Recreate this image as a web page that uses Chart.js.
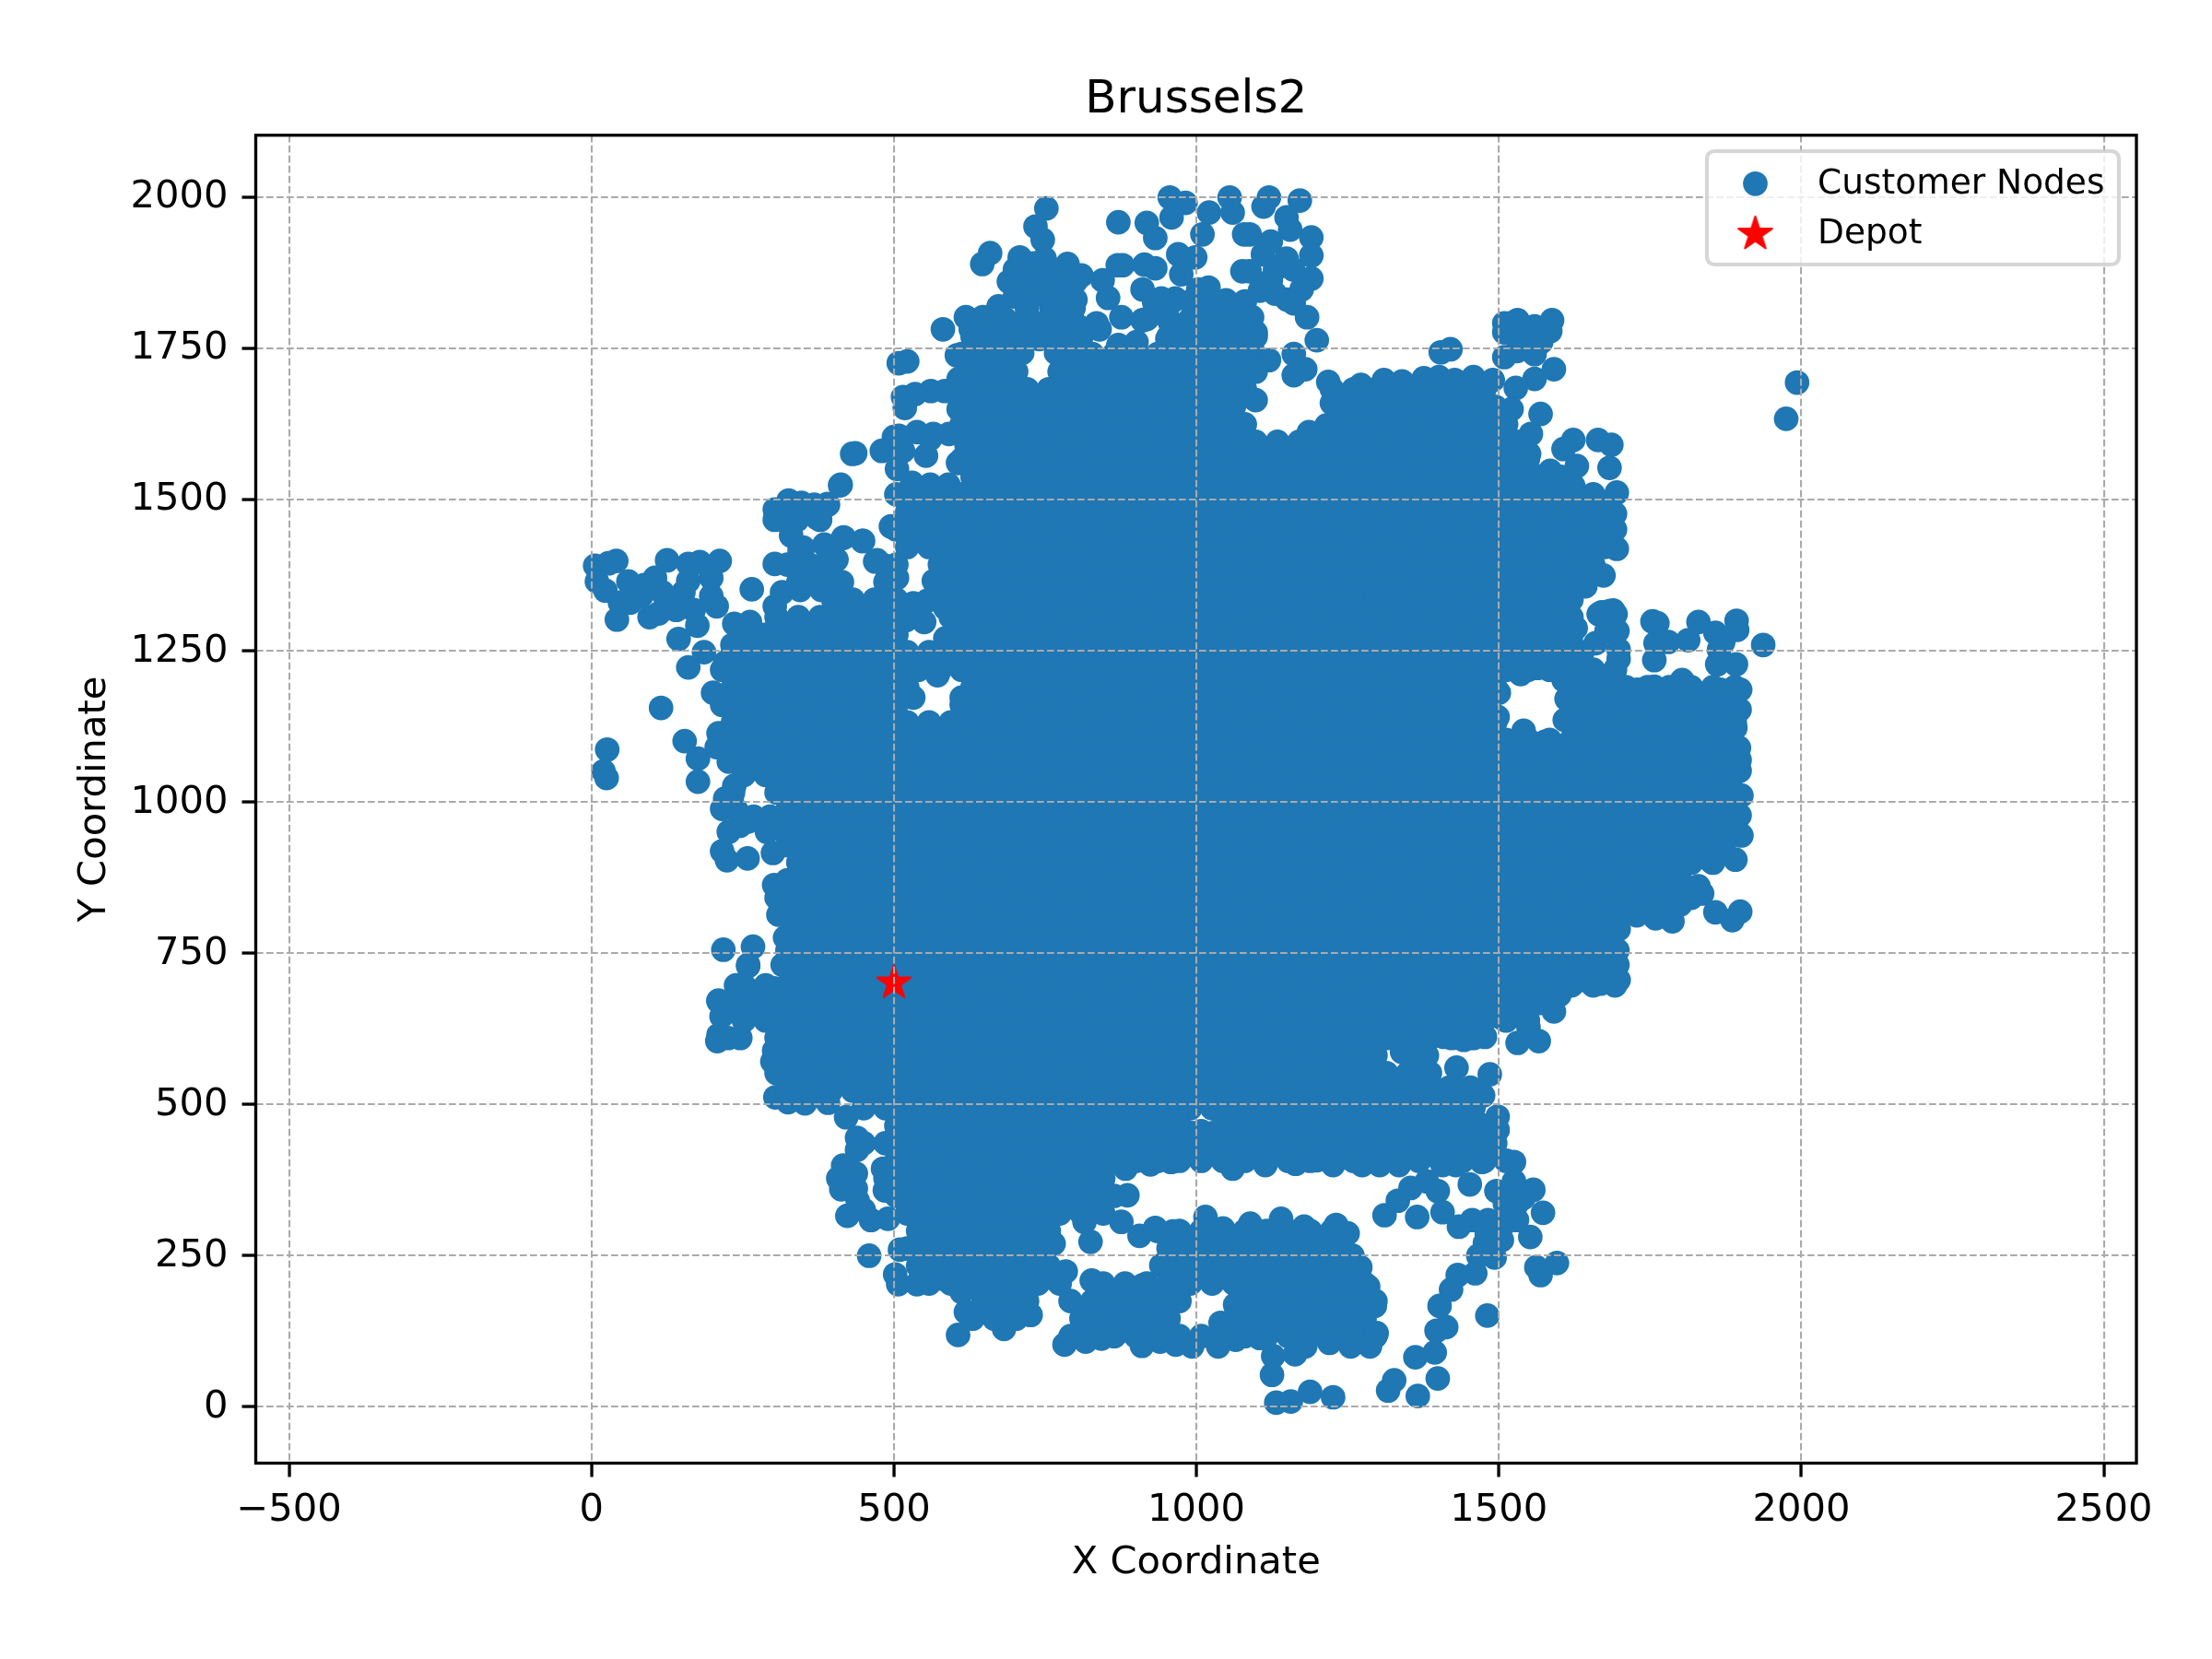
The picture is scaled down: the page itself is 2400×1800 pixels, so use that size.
<!DOCTYPE html>
<html>
<head>
<meta charset="utf-8">
<title>Brussels2</title>
<script src="https://cdn.jsdelivr.net/npm/chart.js@4"></script>
<style>
  html, body { margin: 0; padding: 0; background: #fff; }
  canvas { display: block; }
</style>
</head>
<body>
<canvas id="grafico" width="2400" height="1800"></canvas>
<script>
const chartTitle = 'Brussels2';
const xAxisTitle = 'X Coordinate';
const yAxisTitle = 'Y Coordinate';
const xTicks = [-500, 0, 500, 1000, 1500, 2000, 2500];
const yTicks = [0, 250, 500, 750, 1000, 1250, 1500, 1750, 2000];
const customerLabel = 'Customer Nodes';
const depotLabel = 'Depot';
const depotX = [500];
const depotY = [700];

// nodes that can be read one by one along the outline of the cloud
const outlineNodes = [
  [752,1981],[734,1951],[746,1929],[871,1958],[918,1957],[932,1932],[956,1999],[982,1990],[959,1966],[1021,1974],
  [1010,1938],[1055,1999],[1060,1974],[970,1905],[998,1900],[975,1872],[1003,1847],[1079,1938],[1076,1877],[659,1907],
  [646,1889],[708,1900],[787,1889],[800,1860],[749,1898],[690,1860],[723,1867],[759,1862],[845,1862],[870,1887],
  [878,1887],[914,1888],[932,1882],[854,1833],[911,1847],[942,1832],[965,1832],[1049,1829],[876,1801],[835,1791],
  [840,1781],[797,1816],[673,1819],[647,1801],[619,1801],[581,1781],[627,1781],[673,1781],[718,1786],[764,1781],
  [805,1786],[911,1796],[957,1791],[1003,1791],[1049,1796],[1079,1796],[871,1755],[901,1760],[952,1765],
  [700,1835],[740,1840],[780,1840],[760,1820],[720,1815],[790,1790],[740,1765],[770,1860],[730,1890],[1020,1825],[1000,1815],
  [700,1880],[730,1870],[760,1880],[780,1875],[810,1870],[790,1850],[750,1850],[700,1855],[720,1835],[770,1825],[800,1830],
  [930,1827],[960,1827],[990,1827],[1020,1850],[1050,1827],[1080,1827],[1110,1905],[1130,1880],[1160,1880],[1105,1845],[1130,1840],[1150,1830],
  [712,1742],[768,1742],
  [508,1725],[522,1728],[515,1669],[535,1674],[561,1679],[584,1679],[518,1651],[604,1738],[607,1699],[607,1649],
  [538,1611],[508,1605],[553,1572],[591,1608],[565,1608],[500,1603],[480,1580],[436,1576],[431,1575],[412,1524],[505,1550],
  [606,1560],[620,1590],[515,1580],[560,1600],
  [530,1527],[560,1524],[590,1524],[505,1456],[495,1455],[485,1390],[416,1436],[448,1431],[469,1397],
  [327,1496],[347,1494],[368,1491],[391,1491],[378,1466],[340,1466],[317,1466],[330,1440],[350,1420],[385,1425],[405,1400],[400,1333],
  [566,1365],[505,1370],[532,1328],[520,1300],[585,1270],[585,1320],[555,1332],
  [532,1172],[612,1172],[572,1209],
  [1120,1999],[1171,1994],[1111,1984],[1149,1966],[1190,1933],[1190,1903],[1155,1946],[1123,1926],[1088,1938],[1149,1898],
  [1190,1865],[1123,1862],[1088,1877],[1174,1847],[1161,1824],[1183,1801],[1199,1763],[1092,1801],[1098,1776],[1092,1750],
  [1161,1740],[1120,1730],[1161,1705],[1180,1715],[1095,1720],[1098,1664],[1218,1694],[1224,1659],[1272,1689],[1310,1697],
  [1186,1611],[1215,1622],
  [1340,1695],[1376,1700],[1401,1702],[1427,1697],[1458,1702],[1490,1697],[1420,1748],[1404,1743],
  [1518,1791],[1509,1791],[1531,1796],[1588,1796],[1559,1786],[1585,1778],[1509,1776],[1534,1771],[1545,1760],[1570,1760],
  [1530,1745],[1509,1735],[1559,1740],[1591,1715],[1559,1699],[1528,1684],[1521,1649],[1569,1641],[1515,1598],[1553,1608],
  [1550,1575],[1623,1598],[1607,1583],[1664,1598],[1686,1590],[1683,1552],[1629,1555],[1585,1547],[1623,1522],[1547,1542],
  [1695,1511],[1692,1476],[1670,1490],[1695,1418],[1645,1395],[1673,1374],[1638,1357],[1613,1318],[1670,1313],[1689,1316],
  [1993,1693],[1975,1633],
  [1643,1356],[1683,1315],[1665,1310],[1693,1310],[1678,1282],[1696,1282],[1627,1287],[1754,1298],[1762,1295],[1830,1297],
  [1893,1299],[1858,1279],[1894,1284],[1813,1267],[1780,1264],[1759,1262],[1937,1259],[1757,1234],[1871,1264],[1864,1251],
  [1892,1227],[1861,1227],[1698,1236],[1698,1251],[1660,1262],
  [1899,1185],[1898,1152],[1891,1122],[1897,1089],[1898,1069],[1898,1051],[1901,1010],[1898,977],[1901,944],[1891,904],
  [1851,901],[1815,901],[1803,1201],[1757,1190],[1729,1185],[1866,1185],
  [1564,1221],[1536,1211],[1500,1180],[1498,1140],[1541,1117],[1576,1099],[1609,1135],[1612,1170],[1607,1201],
  [1836,848],[1858,817],[1886,804],[1899,818],[1787,802],[1759,807],[1800,830],[1830,860],[1739,820],[1780,850],
  [1696,754],[1698,705],[1668,699],[1622,700],[1640,705],[1591,653],[1579,667],[1546,665],[1505,642],[1549,627],
  [1566,604],[1531,601],[1477,611],[1442,606],[1409,611],[1698,789],[1696,730],[1600,680],
  [1381,580],[1485,549],[1453,527],[1418,527],[1474,514],[1370,532],[1430,560],[1340,586],[1008,455],
  [1060,393],[1114,399],[1164,401],[1199,407],[1226,399],[1274,399],[1303,399],[1335,399],[1407,399],[1429,399],
  [1472,404],[1498,457],[1498,479],[1525,404],[1049,425],[1028,452],[993,420],[958,404],[926,404],[991,452],[1039,495],
  [1365,313],[1311,316],[1333,340],[1354,361],[1381,372],[1399,356],[1407,321],[1452,367],[1496,356],[1525,372],
  [1557,358],[1541,345],[1573,320],[1552,280],[1509,302],[1530,308],[1482,308],[1456,308],[1434,297],[1477,270],
  [1493,246],[1466,249],[1461,220],[1432,217],[1421,193],[1402,166],[1413,131],[1397,125],[1394,89],[1362,81],
  [1399,46],[1366,17],[1327,43],[1317,26],[1481,150],[1562,230],[1596,237],[1569,217],[1226,15],[1188,24],
  [1156,8],[1132,6],[1125,52],[1127,83],[1163,86],[1510,335],[1530,335],[1480,285],[1505,275],
  [1015,313],[1089,302],[1140,310],[1178,297],[1231,300],[1250,286],[932,294],[961,289],[1044,294],[958,265],
  [1258,249],[1271,230],[1284,198],[1295,166],[1298,121],[1287,99],[1255,99],[1220,105],[1180,99],[1105,113],
  [1065,110],[1036,99],[993,99],[966,102],[940,107],[950,233],[1010,215],[1064,168],[1040,138],
  [218,755],[267,760],[259,730],[248,696],[210,671],[215,645],[210,614],[208,604],[246,609],[226,609],
  [302,691],[316,730],[302,588],[299,570],[304,511],[325,503],[353,501],[391,502],[421,478],[439,444],
  [439,424],[416,398],[408,377],[413,359],[423,315],[462,308],[459,249],[510,259],[502,218],[507,202],
  [538,202],[584,210],[612,189],[619,156],[606,118],[682,128],[726,151],[782,102],[817,107],[843,112],
  [868,120],[910,100],[942,109],[825,272],[827,208],[856,192],[906,282],[932,295],[891,192],[911,200],
  [876,305],[886,349],[883,393],[924,400],[764,269],[784,223],[490,310],[485,357],[482,393],[815,305],
  [437,385],[437,360],[440,340],[450,325],[942,233],
  [411,1523],[390,1492],[326,1498],[303,1483],[303,1466],[373,1469],[350,1486],[417,1437],[449,1431],[472,1399],
  [303,1393],[344,1416],[303,1323],[265,1351],[315,1346],[345,1350],[380,1350],[385,1393],[340,1300],[380,1300],
  [6,1390],[41,1398],[28,1394],[9,1364],[23,1349],[61,1364],[42,1301],[47,1329],[96,1305],[111,1311],
  [105,1370],[125,1399],[160,1393],[179,1396],[212,1398],[198,1370],[198,1340],[207,1323],[152,1346],[117,1346],
  [82,1340],[169,1317],[175,1291],[144,1269],[64,1329],[140,1317],[87,1358],[160,1365],
  [160,1222],[186,1247],[236,1294],[262,1297],[233,1259],[221,1230],[201,1180],[115,1155],[154,1100],[176,1071],
  [176,1033],[26,1086],[20,1050],[25,1039],[210,1113],[207,1090],[227,1066],[236,1026],[221,1005],[216,988],
  [227,950],[259,967],[216,918],[224,903],[258,906],[300,915],[302,862],[309,813],[320,775],[259,728],
  [240,985],[268,975],[295,975],[245,960],[290,950],[232,1000],
  [321,731],[239,696],[210,670],[550,1297]
];

// inner nodes of the solid part of the cloud, one row per y value
const rowY = [1798,1769,1740,1711,1682,1653,1624,1595,1566,1537,1508,1479,1450,1421,1392,1363,1334,1305,1276,1247,1218,1189,1160,1131,1102,1073,1044,1015,986,957,928,899,870,841,812,783,754,725,696,667,638,609,580,551,522,493,464,435,406,377,348,319,290,261,232,203,174,145,116];
const rowX = [
  [648,684,720,756,792,918,954,990,1026,1062],
  [630,666,702,738,774,810,954,990,1026,1062,1098],
  [612,648,684,792,828,864,900,936,972,1008,1044,1080],
  [630,666,702,774,810,846,882,918,954,990,1026,1062,1098],
  [612,648,684,720,756,792,828,864,900,936,972,1008,1044,1080,1224,1260,1296,1332,1368,1404,1440,1476],
  [630,666,702,738,774,810,846,882,918,954,990,1026,1062,1242,1278,1314,1350,1386,1422,1458,1494],
  [612,648,684,720,756,792,828,864,900,936,972,1008,1044,1080,1224,1260,1296,1332,1368,1404,1440,1476,1512],
  [630,666,702,738,774,810,846,882,918,954,990,1026,1062,1098,1134,1170,1206,1242,1278,1314,1350,1386,1422,1458,1494,1530],
  [612,648,684,720,756,792,828,864,900,936,972,1008,1044,1080,1116,1152,1188,1224,1260,1296,1332,1368,1404,1440,1476,1512,1548],
  [630,666,702,738,774,810,846,882,918,954,990,1026,1062,1098,1134,1170,1206,1242,1278,1314,1350,1386,1422,1458,1494,1530,1566,1602],
  [504,540,576,612,648,684,720,756,792,828,864,900,936,972,1008,1044,1080,1116,1152,1188,1224,1260,1296,1332,1368,1404,1440,1476,1512,1548,1584,1620,1656],
  [522,558,594,630,666,702,738,774,810,846,882,918,954,990,1026,1062,1098,1134,1170,1206,1242,1278,1314,1350,1386,1422,1458,1494,1530,1566,1602,1638,1674],
  [504,540,576,612,648,684,720,756,792,828,864,900,936,972,1008,1044,1080,1116,1152,1188,1224,1260,1296,1332,1368,1404,1440,1476,1512,1548,1584,1620,1656,1692],
  [522,558,594,630,666,702,738,774,810,846,882,918,954,990,1026,1062,1098,1134,1170,1206,1242,1278,1314,1350,1386,1422,1458,1494,1530,1566,1602,1638,1674],
  [324,360,396,504,576,612,648,684,720,756,792,828,864,900,936,972,1008,1044,1080,1116,1152,1188,1224,1260,1296,1332,1368,1404,1440,1476,1512,1548,1584,1620,1656],
  [342,378,414,486,594,630,666,702,738,774,810,846,882,918,954,990,1026,1062,1098,1134,1170,1206,1242,1278,1314,1350,1386,1422,1458,1494,1530,1566,1602,1638],
  [432,468,504,576,612,648,684,720,756,792,828,864,900,936,972,1008,1044,1080,1116,1152,1188,1224,1260,1296,1332,1368,1404,1440,1476,1512,1548,1584,1620],
  [306,342,378,414,450,486,594,630,666,702,738,774,810,846,882,918,954,990,1026,1062,1098,1134,1170,1206,1242,1278,1314,1350,1386,1422,1458,1494,1530,1566,1602,1620],
  [252,288,324,360,396,432,468,504,612,648,684,720,756,792,828,864,900,936,972,1008,1044,1080,1116,1152,1188,1224,1260,1296,1332,1368,1404,1440,1476,1512,1548,1584,1620],
  [234,270,306,342,378,414,450,486,522,558,594,630,666,702,738,774,810,846,882,918,954,990,1026,1062,1098,1134,1170,1206,1242,1278,1314,1350,1386,1422,1458,1494,1530,1566,1602,1638],
  [216,252,288,324,360,396,432,468,504,540,576,612,648,684,720,756,792,828,864,900,936,972,1008,1044,1080,1116,1152,1188,1224,1260,1296,1332,1368,1404,1440,1476,1512,1548,1584,1620,1656,1692],
  [234,270,306,342,378,414,450,486,522,630,666,702,738,774,810,846,882,918,954,990,1026,1062,1098,1134,1170,1206,1242,1278,1314,1350,1386,1422,1458,1494,1638,1674,1710,1746,1782,1818,1854,1890],
  [216,252,288,324,360,396,432,468,504,612,648,684,720,756,792,828,864,900,936,972,1008,1044,1080,1116,1152,1188,1224,1260,1296,1332,1368,1404,1440,1476,1620,1656,1692,1728,1764,1800,1836,1872],
  [234,270,306,342,378,414,450,486,522,558,594,630,666,702,738,774,810,846,882,918,954,990,1026,1062,1098,1134,1170,1206,1242,1278,1314,1350,1386,1422,1458,1494,1638,1674,1710,1746,1782,1818,1854,1890],
  [216,252,288,324,360,396,432,468,504,540,576,612,648,684,720,756,792,828,864,900,936,972,1008,1044,1080,1116,1152,1188,1224,1260,1296,1332,1368,1404,1440,1476,1512,1548,1584,1620,1656,1692,1728,1764,1800,1836,1872],
  [234,270,306,342,378,414,450,486,522,558,594,630,666,702,738,774,810,846,882,918,954,990,1026,1062,1098,1134,1170,1206,1242,1278,1314,1350,1386,1422,1458,1494,1530,1566,1602,1638,1674,1710,1746,1782,1818,1854,1890],
  [252,288,324,360,396,432,468,504,540,576,612,648,684,720,756,792,828,864,900,936,972,1008,1044,1080,1116,1152,1188,1224,1260,1296,1332,1368,1404,1440,1476,1512,1548,1584,1620,1656,1692,1728,1764,1800,1836,1872],
  [234,306,342,378,414,450,486,522,558,594,630,666,702,738,774,810,846,882,918,954,990,1026,1062,1098,1134,1170,1206,1242,1278,1314,1350,1386,1422,1458,1494,1530,1566,1602,1638,1674,1710,1746,1782,1818,1854,1890],
  [324,360,396,432,468,504,540,576,612,648,684,720,756,792,828,864,900,936,972,1008,1044,1080,1116,1152,1188,1224,1260,1296,1332,1368,1404,1440,1476,1512,1548,1584,1620,1656,1692,1728,1764,1800,1836,1872],
  [306,342,378,414,450,486,522,558,594,630,666,702,738,774,810,846,882,918,954,990,1026,1062,1098,1134,1170,1206,1242,1278,1314,1350,1386,1422,1458,1494,1530,1566,1602,1638,1674,1710,1746,1782,1818,1854,1890],
  [324,360,396,432,468,504,540,576,612,648,684,720,756,792,828,864,900,936,972,1008,1044,1080,1116,1152,1188,1224,1260,1296,1332,1368,1404,1440,1476,1512,1548,1584,1620,1656,1692,1728,1764,1800,1836,1872],
  [342,378,414,450,486,522,558,594,630,666,702,738,774,810,846,882,918,954,990,1026,1062,1098,1134,1170,1206,1242,1278,1314,1350,1386,1422,1458,1494,1530,1566,1602,1638,1674,1710,1746,1782,1818,1854],
  [324,360,396,432,468,504,540,576,612,648,684,720,756,792,828,864,900,936,972,1008,1044,1080,1116,1152,1188,1224,1260,1296,1332,1368,1404,1440,1476,1512,1548,1584,1620,1656,1692,1728,1764,1800],
  [306,342,378,414,450,486,522,558,594,630,666,702,738,774,810,846,882,918,954,990,1026,1062,1098,1134,1170,1206,1242,1278,1314,1350,1386,1422,1458,1494,1530,1566,1602,1638,1674,1710,1746,1782,1818],
  [324,360,396,432,468,504,540,576,612,648,684,720,756,792,828,864,900,936,972,1008,1044,1080,1116,1152,1188,1224,1260,1296,1332,1368,1404,1440,1476,1512,1548,1584,1620,1656,1692,1728,1764],
  [342,378,414,450,486,522,558,594,630,666,702,738,774,810,846,882,918,954,990,1026,1062,1098,1134,1170,1206,1242,1278,1314,1350,1386,1422,1458,1494,1530,1566,1602,1638,1674],
  [324,360,396,432,468,504,540,576,612,648,684,720,756,792,828,864,900,936,972,1008,1044,1080,1116,1152,1188,1224,1260,1296,1332,1368,1404,1440,1476,1512,1548,1584,1620,1656,1692],
  [342,378,414,450,486,522,558,594,630,666,702,738,774,810,846,882,918,954,990,1026,1062,1098,1134,1170,1206,1242,1278,1314,1350,1386,1422,1458,1494,1530,1566,1602,1638,1674],
  [252,288,324,360,396,432,468,504,540,576,612,648,684,720,756,792,828,864,900,936,972,1008,1044,1080,1116,1152,1188,1224,1260,1296,1332,1368,1404,1440,1476,1512,1548,1584,1620,1656,1692],
  [234,270,306,342,378,414,450,486,522,558,594,630,666,702,738,774,810,846,882,918,954,990,1026,1062,1098,1134,1170,1206,1242,1278,1314,1350,1386,1422,1458,1494,1530,1566],
  [252,288,324,360,396,432,468,504,540,576,612,648,684,720,756,792,828,864,900,936,972,1008,1044,1080,1116,1152,1188,1224,1260,1296,1332,1368,1404,1440,1476,1512,1548],
  [306,342,378,414,450,486,522,558,594,630,666,702,738,774,810,846,882,918,954,990,1026,1062,1098,1134,1170,1206,1242,1278,1314,1350,1386,1422,1458],
  [324,360,396,432,468,504,540,576,612,648,684,720,756,792,828,864,900,936,972,1008,1044,1080,1116,1152,1188,1224,1260,1296,1368],
  [306,342,378,414,450,486,522,558,594,630,666,702,738,774,810,846,882,918,954,990,1026,1062,1098,1134,1170,1206,1242,1278,1314,1350,1386],
  [324,360,396,432,468,504,540,576,612,648,684,720,756,792,828,864,900,936,972,1008,1044,1080,1116,1152,1188,1224,1260,1296,1332,1368,1404,1440],
  [450,486,522,558,594,630,666,702,738,774,810,846,882,918,954,990,1026,1062,1098,1134,1170,1206,1242,1278,1314,1350,1386,1422,1458],
  [504,540,576,612,648,684,720,756,792,828,864,900,936,972,1044,1080,1116,1152,1188,1224,1260,1296,1332,1368,1404,1440,1476],
  [450,486,522,558,594,630,666,702,738,774,810,846,882,918,954,990,1026,1062,1098,1134,1170,1206,1242,1278,1314,1350,1386,1422,1458,1494],
  [504,540,576,612,648,684,720,756,792,828,864,900,936,972,1008,1044,1080,1116,1152,1188,1224,1260,1296,1332,1368,1404,1440,1476,1512],
  [486,522,558,594,630,666,702,738,774,810,846],
  [504,540,576,612,648,684,720,756,792,828,864],
  [522,558,594,630,666,702,738,774,810,846],
  [540,576,612,648,684,720,756,936,972,1008,1044,1080,1116,1152,1188,1224],
  [522,558,594,630,666,702,738,954,990,1026,1062,1098,1134,1170,1206,1242],
  [540,576,612,648,684,720,756,972,1008,1044,1080,1116,1152,1188,1224,1260],
  [558,594,630,666,702,738,774,846,882,918,954,990,1026,1062,1098,1134,1170,1206,1242,1278],
  [648,684,720,792,828,864,900,936,972,1080,1116,1152,1188,1224,1260,1296],
  [630,666,702,810,846,882,918,954,1062,1098,1134,1170,1206,1242,1278],
  [792,828,864,900,936,972,1008,1044,1080,1116,1152,1188,1224,1260,1296]
];

const customerPoints = outlineNodes.map(([x, y]) => ({ x, y }));
rowY.forEach((y, i) => rowX[i].forEach((x) => customerPoints.push({ x, y })));
const depotPoints = depotX.map((x, i) => ({ x, y: depotY[i] }));

const FONT = 'DejaVu Sans';
const TEXT_SIZE = 41.67;
const LEGEND_SIZE = 37.5;

function criarEstrela() {
  const c = document.createElement('canvas');
  c.width = 48;
  c.height = 48;
  const g = c.getContext('2d');
  g.translate(24, 24);
  g.beginPath();
  for (let i = 0; i < 10; i++) {
    const r = i % 2 === 0 ? 19.2 : 19.2 * 0.382;
    const a = (-90 + i * 36) * Math.PI / 180;
    g.lineTo(r * Math.cos(a), r * Math.sin(a));
  }
  g.closePath();
  g.fillStyle = '#ff0000';
  g.strokeStyle = '#ff0000';
  g.lineWidth = 2;
  g.lineJoin = 'round';
  g.fill();
  g.stroke();
  return c;
}
const estrela = criarEstrela();

// top and right spines plus the boxed legend inside the axes
const molduraLegenda = {
  id: 'molduraLegenda',
  afterDraw(chart) {
    const { ctx, chartArea: a } = chart;
    ctx.save();
    ctx.strokeStyle = '#000';
    ctx.lineWidth = 3.33;
    ctx.strokeRect(a.left, a.top, a.right - a.left, a.bottom - a.top);

    ctx.beginPath();
    ctx.roundRect(1852, 164, 447, 123, 8);
    ctx.fillStyle = 'rgba(255,255,255,0.8)';
    ctx.fill();
    ctx.strokeStyle = 'rgba(204,204,204,0.8)';
    ctx.lineWidth = 4.17;
    ctx.stroke();

    ctx.beginPath();
    ctx.arc(1904.5, 199.3, 13.35, 0, Math.PI * 2);
    ctx.fillStyle = '#1f77b4';
    ctx.fill();
    ctx.drawImage(estrela, 1904.5 - 24, 254 - 24);

    ctx.fillStyle = '#000';
    ctx.font = LEGEND_SIZE + 'px "' + FONT + '"';
    ctx.textAlign = 'left';
    ctx.textBaseline = 'alphabetic';
    ctx.fillText(chart.data.datasets[0].label, 1972, 210);
    ctx.fillText(chart.data.datasets[1].label, 1972, 264);
    ctx.restore();
  },
};

function eixo(min, max, ticks, titulo, titlePadding, tickPadding, labelOffset, fit) {
  return {
    type: 'linear',
    min,
    max,
    afterBuildTicks: (scale) => { scale.ticks = ticks.map((value) => ({ value })); },
    afterFit: fit,
    title: { display: true, text: titulo, color: '#000', font: { size: TEXT_SIZE }, padding: titlePadding },
    ticks: {
      color: '#000',
      font: { size: TEXT_SIZE },
      padding: tickPadding,
      labelOffset,
      autoSkip: false,
      maxRotation: 0,
      callback: (v) => String(v).replace('-', '\u2212'),
    },
    border: { display: false, dash: [7.7, 3.3] },
    grid: { z: 1, color: '#aaaaaa', lineWidth: 2.08, tickColor: '#000', tickWidth: 3.33, tickLength: 15 },
  };
}

function configurar() {
  Chart.defaults.font.family = FONT;
  Chart.defaults.color = '#000';
  new Chart(document.getElementById('grafico'), {
    type: 'scatter',
    data: {
      datasets: [
        { label: customerLabel, data: customerPoints, order: 1, pointRadius: 13.35, pointBorderWidth: 0, backgroundColor: '#1f77b4' },
        { label: depotLabel, data: depotPoints, order: 0, pointStyle: estrela, pointRadius: 20, backgroundColor: '#ff0000' },
      ],
    },
    plugins: [molduraLegenda],
    options: {
      responsive: false,
      animation: false,
      devicePixelRatio: 1,
      layout: { padding: { right: 82 } },
      plugins: {
        legend: { display: false },
        tooltip: { enabled: false },
        title: {
          display: true,
          text: chartTitle,
          color: '#000',
          fullSize: false,
          font: { size: 50, weight: 'normal' },
          padding: { top: 79, bottom: 7.7 },
        },
      },
      scales: {
        x: eixo(-555, 2554, xTicks, xAxisTitle, { top: 0, bottom: 78.5 }, 12, 0, (s) => { s.height = 212.5; }),
        y: eixo(-94, 2102, yTicks, yAxisTitle, { top: 78, bottom: 0 }, 15, 1, (s) => { s.width = 277.5; }),
      },
    },
  });
}

document.addEventListener('DOMContentLoaded', configurar);
</script>
</body>
</html>
